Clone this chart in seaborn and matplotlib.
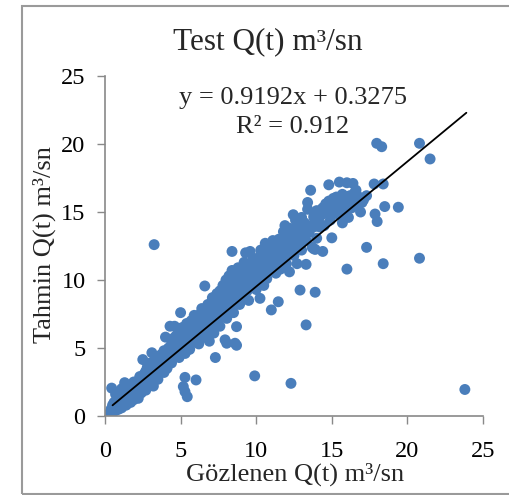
import matplotlib
matplotlib.use("Agg")
import matplotlib.pyplot as plt
import seaborn as sns
import pandas as pd
from matplotlib.patches import Rectangle

obs = [0.3,0.4,0.45,0.5,0.5,0.6,0.6,0.7,0.7,0.8,0.8,0.9,0.9,1.0,1.0,1.0,1.1,1.1,1.2,1.2,1.3,1.3,1.4,1.4,1.5,1.5,1.6,1.6,1.7,1.7,1.8,1.8,1.9,1.9,2.0,2.0,0.44,1.3,1.9,0.7,1.5,1.1,
       2.1,2.1,2.2,2.2,2.3,2.3,2.4,2.4,2.5,2.5,2.5,2.6,2.6,2.7,2.7,2.8,2.8,2.9,2.9,3.0,3.0,3.0,3.1,3.1,3.2,3.2,3.3,3.3,3.4,3.4,3.5,3.5,3.6,3.6,3.7,3.75,3.8,3.8,3.9,3.9,4.0,4.0,4.0,
       4.1,4.1,4.2,4.2,4.3,4.3,4.4,4.4,4.5,4.5,4.6,4.6,4.7,4.7,4.8,4.8,4.9,4.9,5.0,5.0,5.0,5.1,5.1,5.2,5.2,5.3,5.3,5.4,5.4,5.5,5.5,5.6,5.6,5.7,5.7,5.8,5.8,5.9,5.9,6.0,6.0,
       5.29,5.18,5.29,5.44,6.02,
       6.1,6.1,6.2,6.2,6.3,6.3,6.4,6.4,6.5,6.5,6.6,6.6,6.7,6.7,6.8,6.8,6.9,6.9,7.0,7.0,7.1,7.1,7.2,7.2,7.3,7.3,7.4,7.4,7.5,7.5,7.6,7.6,7.7,7.7,7.8,7.8,7.9,7.94,8.0,8.0,8.05,
       8.1,8.1,8.2,8.2,8.3,8.3,8.4,8.4,8.4,8.5,8.5,8.6,8.6,8.6,8.7,8.7,8.8,8.8,8.9,8.9,9.0,9.0,9.1,9.1,9.2,9.2,9.3,9.3,9.4,9.4,9.5,9.5,9.6,9.6,9.7,9.7,9.8,9.8,9.9,9.9,10.0,10.0,10.0,
       10.1,10.1,10.2,10.25,10.3,10.3,10.4,10.4,10.5,10.5,10.6,10.6,10.7,10.7,10.8,10.8,10.9,10.9,11.0,11.0,11.0,11.1,11.2,11.2,11.3,11.3,11.46,11.4,11.5,11.5,11.6,11.6,11.7,11.8,11.8,11.9,11.9,12.0,12.0,
       12.1,12.1,12.2,12.2,12.3,12.3,12.4,12.45,12.5,12.5,12.6,12.6,12.7,12.7,12.8,12.8,12.9,12.9,13.0,13.0,13.1,13.1,13.2,13.3,13.3,13.3,13.4,13.4,13.5,13.6,13.6,13.7,13.8,13.8,13.8,13.9,13.9,14.0,14.0,
       14.1,14.2,14.2,14.3,14.4,14.4,14.5,14.6,14.7,14.8,14.8,14.9,15.0,15.0,15.1,15.2,15.3,15.4,15.5,15.5,15.6,15.7,15.7,15.8,15.9,16.0,16.0,16.0,16.1,16.2,16.3,16.4,16.4,16.5,16.6,16.7,16.8,16.9,17.0,17.1,17.3,17.3,17.86,18.0,17.8,18.4,18.5,19.4,17.97,18.3,20.8,21.5,20.8,18.4,23.8,3.25,
       8.05,8.7]
pred = [0.2,0.5,0.1,0.8,0.35,0.6,1.0,0.4,0.9,0.7,1.2,0.5,1.0,0.8,1.3,1.6,1.0,0.6,1.4,0.9,1.1,1.7,1.3,0.8,1.5,1.1,1.8,1.3,1.0,1.6,2.0,1.4,1.7,1.2,2.1,1.5,2.05,2.45,2.5,1.6,2.2,2.0,
        1.8,2.3,1.3,2.6,2.0,2.9,1.7,2.4,4.15,2.8,2.1,3.1,2.5,1.9,3.3,2.7,3.6,2.3,3.0,3.4,2.6,3.9,4.65,2.9,3.2,2.2,3.7,4.1,3.0,3.5,4.3,2.7,3.8,3.3,4.5,4.36,3.5,4.0,4.8,3.2,4.3,5.8,3.8,
        4.6,3.5,5.0,4.1,6.6,4.5,5.3,3.9,4.9,5.7,4.4,6.6,5.2,5.9,4.6,5.5,6.2,4.3,7.6,5.1,5.8,4.8,6.5,5.4,6.0,4.6,5.8,6.8,5.2,6.2,5.6,4.9,6.6,5.9,7.0,5.4,6.3,7.4,6.0,5.6,6.7,
        2.84,2.16,1.79,1.42,2.65,
        6.2,7.2,5.3,6.8,7.5,6.0,6.5,7.9,5.8,7.1,9.56,6.7,7.6,6.2,8.2,7.0,5.5,7.4,8.0,6.6,8.7,7.3,6.1,7.8,4.3,8.4,7.0,9.0,7.7,8.3,6.6,9.2,8.0,7.3,8.8,9.6,7.6,5.6,8.5,10.0,7.18,
        9.1,7.9,8.6,10.3,9.4,8.1,12.1,10.7,8.9,9.8,7.6,5.35,9.2,10.4,6.57,8.7,9.9,10.9,9.4,8.2,10.2,9.0,10.8,8.6,9.7,11.3,12.0,10.3,9.2,10.9,10.0,8.5,12.1,10.6,11.2,9.5,10.3,11.6,2.95,10.8,9.3,11.1,10.5,
        11.6,9.8,10.9,8.65,11.3,12.2,10.4,11.8,9.6,11.0,12.7,11.5,10.1,12.0,11.2,10.6,11.8,12.4,7.8,10.9,11.5,12.9,11.1,12.2,10.5,11.7,8.4,12.5,11.3,13.0,12.0,10.8,12.7,13.55,11.6,12.3,14.0,11.2,12.9,
        13.3,12.0,10.6,13.8,2.4,12.6,13.1,14.8,11.8,12.4,13.6,14.4,11.2,13.0,14.1,12.7,9.26,13.4,12.2,14.6,13.7,12.9,14.2,11.15,12.9,6.7,15.7,15.2,13.5,16.6,14.0,12.4,14.65,13.9,12.3,9.1,12.25,13.07,15.1,
        14.4,14.65,13.9,14.8,12.1,15.3,14.0,15.6,14.9,17.0,15.8,14.4,13.1,15.3,16.0,14.9,16.1,15.5,17.2,14.8,15.9,14.2,16.3,15.2,16.0,10.8,17.15,15.6,14.6,16.2,15.3,17.1,15.9,16.4,16.6,15.6,16.1,15.0,15.7,15.9,12.4,16.2,14.85,14.3,17.06,17.06,15.4,15.35,20.05,19.8,20.05,18.9,11.6,11.2,1.95,12.6,
        5.35,5.2]

# trendline as printed on the chart
slope = 0.9192
intercept = 0.3275
trend_x = [0.5, 23.9]

x_ticks = [0, 5, 10, 15, 20, 25]
y_ticks = [0, 5, 10, 15, 20, 25]

title = "Test Q(t) m³/sn"
xlabel = "Gözlenen Q(t) m³/sn"
ylabel = "Tahmin Q(t) m³/sn"
eq_text = "y = 0.9192x + 0.3275"
r2_text = "R² = 0.912"

sns.set_style("white")
plt.rcParams['font.family'] = ['Liberation Serif', 'DejaVu Serif']

df = pd.DataFrame({"obs": obs, "pred": pred})

fig = plt.figure(figsize=(5.09, 4.95), dpi=100)
ax = fig.add_axes([105/509, 1-416/495, (483-105)/509, (416-76)/495])

sns.scatterplot(data=df, x="obs", y="pred", ax=ax, color="#4A7EBB", s=62,
                linewidth=0, edgecolor="none", zorder=2)
tx = trend_x
ty = [slope * v + intercept for v in tx]
ax.plot(tx, ty, color="black", lw=1.3, zorder=3)

ax.set_xlim(0, 25)
ax.set_ylim(0, 25)
ax.set_xticks(x_ticks)
ax.set_yticks(y_ticks)
ax.tick_params(axis='both', labelsize=17.5, colors='#898989', labelcolor='black',
               direction='out', length=6, width=1, left=True, bottom=True)
ax.tick_params(axis='x', pad=12)
ax.tick_params(axis='y', pad=8)
for s in ['top', 'right']:
    ax.spines[s].set_visible(False)
for s in ['left', 'bottom']:
    ax.spines[s].set_color('#898989')
    ax.spines[s].set_linewidth(1.2)
ax.set_xlabel("")
ax.set_ylabel("")

fig.text(268/509, 1-42/495, title, ha='center', va='center', fontsize=22.5)
fig.text(293/509, 1-98/495, eq_text, ha='center', va='center', fontsize=19)
fig.text(293/509, 1-127/495, r2_text, ha='center', va='center', fontsize=19)
fig.text(295/509, 1-474/495, xlabel, ha='center', va='center', fontsize=19)
fig.text(44/509, 1-245/495, ylabel, ha='center', va='center', fontsize=19, rotation=90)

fig.patches.append(Rectangle((22/509, 1/495), 2.0, 488/495, transform=fig.transFigure,
                             fill=False, edgecolor='#9a9a9a', lw=1.5, figure=fig))

fig.savefig("out.png", dpi=100)
